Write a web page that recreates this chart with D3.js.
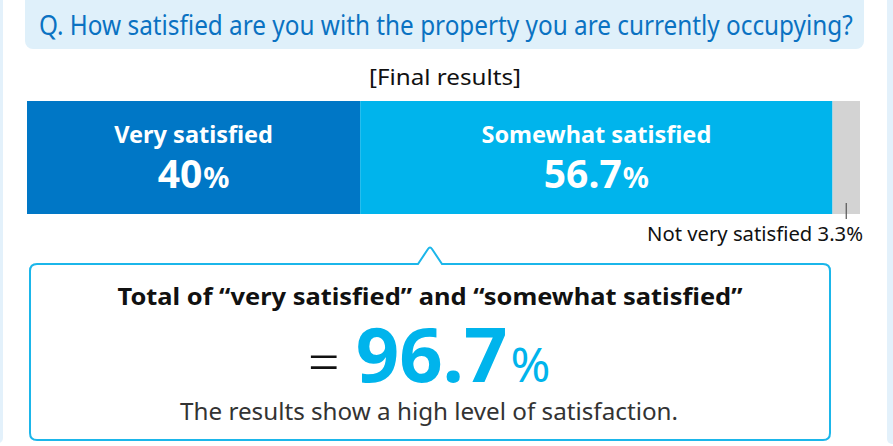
<!DOCTYPE html>
<html>
<head>
<meta charset="utf-8">
<script src="https://cdn.jsdelivr.net/npm/d3@7"></script>
<style>
  html, body { margin: 0; padding: 0; background: #fff; }
  svg { display: block; font-family: "Noto Sans", "DejaVu Sans", sans-serif; }
</style>
</head>
<body>
<svg id="chart" width="893" height="446"></svg>
<script>
// DATA
const categories = ['Very satisfied', 'Somewhat satisfied', 'Not very satisfied'];
const values = [40, 56.7, 3.3];
const question = 'Q. How satisfied are you with the property you are currently occupying?';
const subtitle = '[Final results]';
const totalTitle = 'Total of \u201cvery satisfied\u201d and \u201csomewhat satisfied\u201d';
const conclusion = 'The results show a high level of satisfaction.';

const colors = ['#0077c6', '#00b4ec', '#d3d3d3'];

const svg = d3.select('#chart');

// squeeze a text horizontally so it spans the given width
function fitWidth(sel, x0, y0, width) {
  const natural = sel.node().getComputedTextLength();
  sel.attr('x', 0).attr('y', 0)
    .attr('transform', `translate(${x0},${y0}) scale(${width / natural},1)`);
}

// SIDE STRIPS
svg.append('rect').attr('x', -6).attr('y', -10).attr('width', 9).attr('height', 453)
  .attr('rx', 5).attr('fill', '#e3f1fb');
svg.append('rect').attr('x', 887).attr('y', -10).attr('width', 12).attr('height', 454)
  .attr('rx', 5).attr('fill', '#e3f1fb');

// QUESTION HEADER
svg.append('rect').attr('x', 25).attr('y', -10).attr('width', 839).attr('height', 59)
  .attr('rx', 8).attr('fill', '#dff0fa');
const q = svg.append('text')
  .attr('font-size', 27).attr('fill', '#0a72c2')
  .text(question);
fitWidth(q, 39, 35, 814);

svg.append('text').attr('x', 445).attr('y', 85).attr('text-anchor', 'middle')
  .attr('font-size', 21).attr('fill', '#111')
  .attr('textLength', 152).attr('lengthAdjust', 'spacingAndGlyphs')
  .text(subtitle);

// STACKED BAR
const x = d3.scaleLinear().domain([0, d3.sum(values)]).range([27, 860]);
const starts = values.map((v, i) => d3.sum(values.slice(0, i)));
const segs = values.map((v, i) => ({ name: categories[i], value: v, start: starts[i], color: colors[i] }));

const barTop = 101, barBottom = 214;
const bar = svg.append('g');
bar.selectAll('rect.seg').data(segs).enter().append('rect')
  .attr('class', 'seg')
  .attr('x', d => x(d.start))
  .attr('y', barTop)
  .attr('width', d => x(d.start + d.value) - x(d.start))
  .attr('height', barBottom - barTop)
  .attr('fill', d => d.color);

// LABELS INSIDE THE TWO BIG SEGMENTS
const inner = segs.slice(0, 2);
bar.selectAll('text.name').data(inner).enter().append('text')
  .attr('class', 'name')
  .attr('x', d => (x(d.start) + x(d.start + d.value)) / 2)
  .attr('y', 143)
  .attr('text-anchor', 'middle')
  .attr('font-size', 23.5).attr('font-weight', 'bold').attr('fill', '#fff')
  .text(d => d.name);

const pct = bar.selectAll('text.pct').data(inner).enter().append('text')
  .attr('class', 'pct')
  .attr('x', d => (x(d.start) + x(d.start + d.value)) / 2)
  .attr('y', 188)
  .attr('text-anchor', 'middle')
  .attr('font-weight', 'bold').attr('fill', '#fff');
pct.append('tspan').attr('font-size', 39).text(d => d.value);
pct.append('tspan').attr('font-size', 29).attr('dx', 1).text('%');

// SMALL SEGMENT LEADER + LABEL
const last = segs[2];
const lx = (x(last.start) + x(last.start + last.value)) / 2;
svg.append('line').attr('x1', lx).attr('x2', lx).attr('y1', 203).attr('y2', 219)
  .attr('stroke', '#555').attr('stroke-width', 1.2);
svg.append('text').attr('x', 863).attr('y', 241).attr('text-anchor', 'end')
  .attr('font-size', 20).attr('fill', '#111')
  .attr('textLength', 216).attr('lengthAdjust', 'spacingAndGlyphs')
  .text(`${last.name} ${last.value}%`);

// CALLOUT BOX
const bx0 = 30, bx1 = 830, by0 = 264, by1 = 440, r = 7;
const px = 430, pw = 12, ptop = 247;
const path = d3.path();
path.moveTo(bx0 + r, by0);
path.lineTo(px - pw, by0);
path.lineTo(px - 2, ptop + 2);
path.quadraticCurveTo(px, ptop - 1, px + 2, ptop + 2);
path.lineTo(px + pw, by0);
path.lineTo(bx1 - r, by0);
path.quadraticCurveTo(bx1, by0, bx1, by0 + r);
path.lineTo(bx1, by1 - r);
path.quadraticCurveTo(bx1, by1, bx1 - r, by1);
path.lineTo(bx0 + r, by1);
path.quadraticCurveTo(bx0, by1, bx0, by1 - r);
path.lineTo(bx0, by0 + r);
path.quadraticCurveTo(bx0, by0, bx0 + r, by0);
path.closePath();
svg.append('path').attr('d', path.toString())
  .attr('fill', '#fff').attr('stroke', '#1bb6ea').attr('stroke-width', 2);

svg.append('text').attr('x', 430).attr('y', 305).attr('text-anchor', 'middle')
  .attr('font-size', 24).attr('font-weight', 'bold').attr('fill', '#111')
  .attr('textLength', 625).attr('lengthAdjust', 'spacingAndGlyphs')
  .text(totalTitle);

const total = d3.format('.1f')(values[0] + values[1]);
const big = svg.append('text').attr('x', 429).attr('y', 382).attr('text-anchor', 'middle');
big.append('tspan').attr('font-size', 56).attr('font-weight', 300).attr('fill', '#111').text('=');
big.append('tspan').attr('dx', 16).attr('font-size', 76).attr('font-weight', 'bold')
  .attr('fill', '#00b4ec').text(total);
big.append('tspan').attr('dx', 3).attr('font-size', 48)
  .attr('fill', '#00b4ec').text('%');

svg.append('text').attr('x', 429).attr('y', 420).attr('text-anchor', 'middle')
  .attr('font-size', 23).attr('fill', '#333')
  .attr('textLength', 498).attr('lengthAdjust', 'spacingAndGlyphs')
  .text(conclusion);
</script>
</body>
</html>
